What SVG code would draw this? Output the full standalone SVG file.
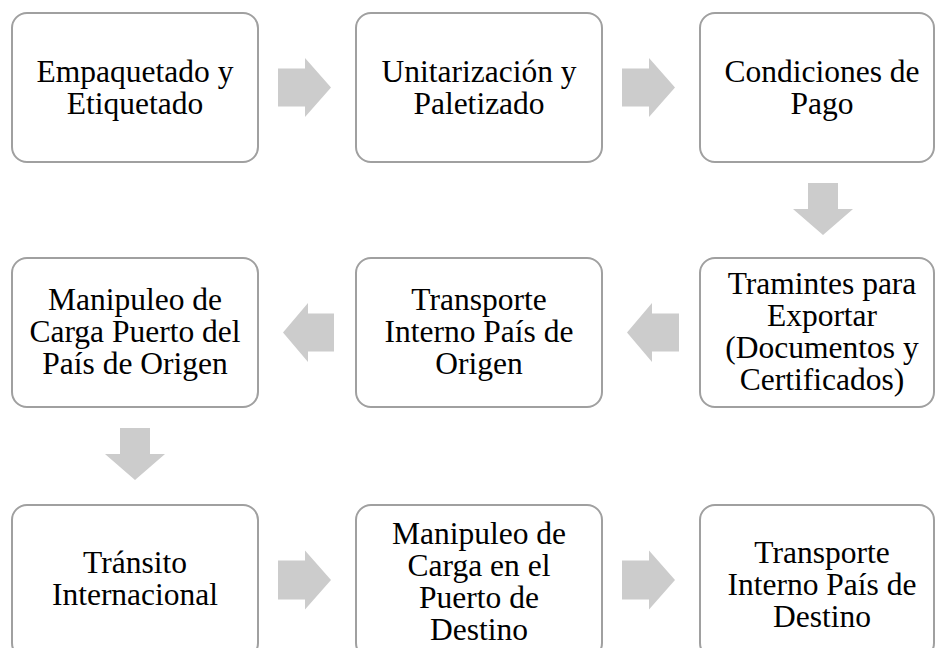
<svg xmlns="http://www.w3.org/2000/svg" width="936" height="648" viewBox="0 0 936 648">
<style>
.box{fill:#ffffff;stroke:#a0a0a0;stroke-width:2}
.arr{fill:#cccccc;stroke:none}
text{font-family:"Liberation Serif","Times New Roman",serif;font-size:31.5px;fill:#000000;text-anchor:middle}
</style>
<rect width="936" height="648" fill="#ffffff"/>
<g id="connectors">
<path class="arr" d="M278,68.5 H305 V58 L331,87.5 L305,117 V106.5 H278 Z"/>
<path class="arr" d="M622,68.5 H649 V58 L675,87.5 L649,117 V106.5 H622 Z"/>
<path class="arr" d="M808,183 H838 V209 H853 L823,235 L793,209 H808 Z"/>
<path class="arr" d="M679,313.5 H652 V303 L627,332.5 L652,362 V351.5 H679 Z"/>
<path class="arr" d="M334,313.5 H308 V303 L283,332.5 L308,362 V351.5 H334 Z"/>
<path class="arr" d="M120,428 H150 V454 H165 L135,480 L105,454 H120 Z"/>
<path class="arr" d="M278,560.5 H305 V550.5 L331,580 L305,609.5 V599.5 H278 Z"/>
<path class="arr" d="M622,560.5 H649 V550.5 L675,580 L649,609.5 V599.5 H622 Z"/>
</g>
<g id="n1"><rect class="box" x="12" y="13" width="246" height="149" rx="15"/>
<text x="135" y="82">Empaquetado y</text><text x="135" y="114">Etiquetado</text></g>
<g id="n2"><rect class="box" x="356" y="13" width="246" height="149" rx="15"/>
<text x="479" y="82">Unitarización y</text><text x="479" y="114">Paletizado</text></g>
<g id="n3"><rect class="box" x="700" y="13" width="234" height="149" rx="15"/>
<text x="822" y="82">Condiciones de</text><text x="822" y="114">Pago</text></g>
<g id="n4"><rect class="box" x="700" y="258" width="234" height="149" rx="15"/>
<text x="822" y="294">Tramintes para</text><text x="822" y="326">Exportar</text><text x="822" y="358">(Documentos y</text><text x="822" y="390">Certificados)</text></g>
<g id="n5"><rect class="box" x="356" y="258" width="246" height="149" rx="15"/>
<text x="479" y="310">Transporte</text><text x="479" y="342">Interno País de</text><text x="479" y="374">Origen</text></g>
<g id="n6"><rect class="box" x="12" y="258" width="246" height="149" rx="15"/>
<text x="135" y="310">Manipuleo de</text><text x="135" y="342">Carga Puerto del</text><text x="135" y="374">País de Origen</text></g>
<g id="n7"><rect class="box" x="12" y="505" width="246" height="153" rx="15"/>
<text x="135" y="573">Tránsito</text><text x="135" y="605">Internacional</text></g>
<g id="n8"><rect class="box" x="356" y="505" width="246" height="153" rx="15"/>
<text x="479" y="544">Manipuleo de</text><text x="479" y="576">Carga en el</text><text x="479" y="608">Puerto de</text><text x="479" y="640">Destino</text></g>
<g id="n9"><rect class="box" x="700" y="505" width="234" height="153" rx="15"/>
<text x="822" y="563">Transporte</text><text x="822" y="595">Interno País de</text><text x="822" y="627">Destino</text></g>
</svg>
